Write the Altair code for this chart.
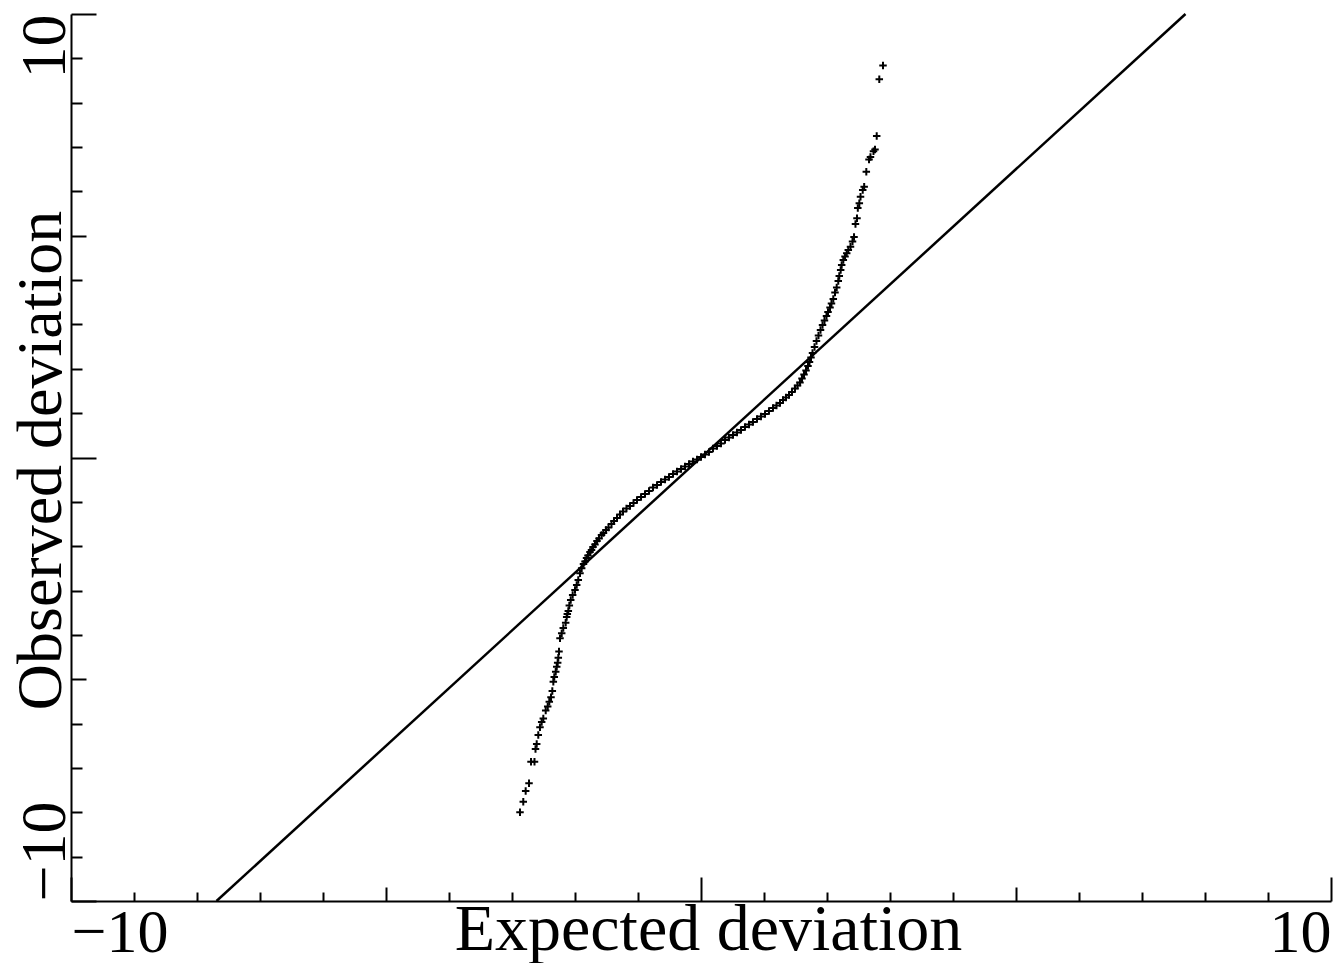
import altair as alt
import pandas as pd

# ---- data (expected vs observed deviation) ----
lower_tail_expected = [-2.873, -2.821, -2.783, -2.730, -2.698, -2.643, -2.627, -2.608, -2.583, -2.556,
                       -2.529, -2.503, -2.465, -2.433, -2.408, -2.381, -2.360, -2.344, -2.329, -2.306,
                       -2.290, -2.275, -2.265, -2.254, -2.238, -2.211, -2.186, -2.148, -2.132, -2.122,
                       -2.106, -2.090, -2.068, -2.037, -2.000, -1.973, -1.948, -1.921, -1.894]
lower_tail_observed = [-8.000, -7.761, -7.520, -7.346, -6.859, -6.859, -6.573, -6.460, -6.257, -6.083,
                       -5.964, -5.885, -5.705, -5.614, -5.506, -5.407, -5.265, -5.055, -4.949, -4.830,
                       -4.717, -4.627, -4.514, -4.374, -4.077, -3.964, -3.844, -3.725, -3.596, -3.529,
                       -3.461, -3.337, -3.213, -3.100, -2.988, -2.875, -2.762, -2.611, -2.498]

center_expected = [-1.865, -1.841, -1.817, -1.794, -1.762, -1.738, -1.714, -1.683, -1.651, -1.619,
                   -1.579, -1.548, -1.508, -1.468, -1.421, -1.381, -1.333, -1.286, -1.238, -1.183,
                   -1.127, -1.071, -1.016, -0.952, -0.889, -0.825, -0.762, -0.698, -0.635, -0.571,
                   -0.508, -0.444, -0.381, -0.317, -0.254, -0.190, -0.127, -0.063, 0.000,
                   0.063, 0.127, 0.190, 0.254, 0.317, 0.381, 0.444, 0.508, 0.571, 0.635,
                   0.698, 0.762, 0.825, 0.889, 0.952, 1.016, 1.079, 1.143, 1.198, 1.254,
                   1.302, 1.349, 1.397, 1.444, 1.492, 1.532, 1.571, 1.603, 1.635, 1.667,
                   1.698, 1.722, 1.746, 1.770]
center_observed = [-2.401, -2.345, -2.266, -2.210, -2.131, -2.086, -2.018, -1.962, -1.883, -1.826,
                   -1.747, -1.702, -1.635, -1.578, -1.499, -1.432, -1.364, -1.285, -1.218, -1.150,
                   -1.094, -1.026, -0.958, -0.891, -0.823, -0.755, -0.676, -0.620, -0.552, -0.496,
                   -0.440, -0.372, -0.316, -0.259, -0.203, -0.147, -0.090, -0.045, 0.011,
                   0.068, 0.124, 0.203, 0.259, 0.316, 0.395, 0.451, 0.507, 0.564, 0.620,
                   0.688, 0.744, 0.800, 0.868, 0.924, 0.981, 1.048, 1.116, 1.172, 1.229,
                   1.297, 1.353, 1.409, 1.477, 1.556, 1.623, 1.691, 1.781, 1.871, 1.962,
                   2.063, 2.153, 2.255, 2.356]

upper_tail_expected = [1.802, 1.833, 1.865, 1.897, 1.929, 1.960, 1.992, 2.016, 2.048, 2.071,
                       2.100, 2.127, 2.154, 2.179, 2.195, 2.217, 2.233, 2.259, 2.286, 2.313,
                       2.338, 2.373, 2.405, 2.429, 2.452, 2.476, 2.489, 2.513, 2.532, 2.567,
                       2.590, 2.624, 2.667, 2.690, 2.738, 2.762, 2.789, 2.830, 2.889]
upper_tail_observed = [2.492, 2.627, 2.751, 2.875, 2.988, 3.089, 3.191, 3.281, 3.382, 3.472,
                       3.574, 3.720, 3.833, 3.980, 4.092, 4.228, 4.340, 4.453, 4.532, 4.604,
                       4.679, 4.753, 4.870, 4.972, 5.265, 5.393, 5.626, 5.732, 5.880, 6.032,
                       6.106, 6.444, 6.719, 6.776, 6.904, 6.945, 7.249, 8.528, 8.839]

# reference line (slope ~1.3 through the origin), endpoints at the frame
line_expected = [-7.69, 7.69]
line_observed = [-10.0, 10.0]

# axis ticks and end labels
tick_values = list(range(-10, 11))
label_values = [-10, 10]

points = pd.DataFrame({
    "expected": lower_tail_expected + center_expected + upper_tail_expected,
    "observed": lower_tail_observed + center_observed + upper_tail_observed,
})
ref = pd.DataFrame({"expected": line_expected, "observed": line_observed})

FONT = "Liberation Serif"
W, H = 1260, 887

xscale = alt.Scale(domain=[-10, 10], nice=False, zero=False)
yscale = alt.Scale(domain=[-10, 10], nice=False, zero=False)

label_x_axis = alt.Axis(
    orient="bottom", values=label_values, ticks=False, tickSize=0, domain=False, grid=False,
    labelFlush=True, labelFont=FONT, labelFontSize=62, labelColor="black", labelPadding=1,
    title="Expected deviation", titleFont=FONT, titleFontSize=66, titleFontWeight="normal",
    titleColor="black", titleX=637, titleY=48, titleBaseline="alphabetic", titleAlign="center",
    titleAngle=0,
)
label_y_axis = alt.Axis(
    orient="left", values=label_values, ticks=False, tickSize=0, domain=False, grid=False,
    labelFlush=False, labelAngle=270,
    labelAlign={"condition": {"test": "datum.value > 0", "value": "right"}, "value": "left"},
    labelBaseline="alphabetic", labelFont=FONT, labelFontSize=64, labelPadding=7, labelColor="black",
    title="Observed deviation", titleFont=FONT, titleFontSize=64, titleFontWeight="normal",
    titleColor="black", titleAngle=270, titleX=-11, titleY=446, titleBaseline="alphabetic",
    titleAlign="center",
)
tick_x_axis = alt.Axis(
    orient="top", offset=-H, values=tick_values, labels=False, grid=False,
    domain=True, domainColor="black", domainWidth=2,
    ticks=True, tickColor="black", tickWidth=2,
    tickSize={"condition": [{"test": "datum.value % 10 == 0", "value": 24},
                            {"test": "abs(datum.value) == 5", "value": 14}], "value": 9},
    title=None,
)
tick_y_axis = alt.Axis(
    orient="right", offset=-W, values=tick_values, labels=False, grid=False,
    domain=True, domainColor="black", domainWidth=2,
    ticks=True, tickColor="black", tickWidth=2,
    tickSize={"condition": [{"test": "datum.value % 10 == 0", "value": 25},
                            {"test": "abs(datum.value) == 5", "value": 15}], "value": 11},
    title=None,
)

line = alt.Chart(ref).mark_line(color="black", strokeWidth=2.5).encode(
    x=alt.X("expected:Q", scale=xscale, axis=tick_x_axis),
    y=alt.Y("observed:Q", scale=yscale, axis=tick_y_axis),
)
pts = alt.Chart(points).mark_point(
    shape="M-1,0H1M0,-1V1", size=56, filled=False, color="black", strokeWidth=2, opacity=1
).encode(
    x=alt.X("expected:Q", scale=xscale, axis=label_x_axis),
    y=alt.Y("observed:Q", scale=yscale, axis=label_y_axis),
)

chart = (
    alt.layer(line, pts)
    .resolve_axis(x="independent", y="independent")
    .properties(
        width=W, height=H,
        autosize=alt.AutoSizeParams(type="none"),
        padding={"left": 71, "top": 14, "right": 3, "bottom": 62},
        background="white",
    )
    .configure_view(strokeWidth=0)
)

chart.save("out.html", embed_options={"renderer": "svg", "actions": False})
